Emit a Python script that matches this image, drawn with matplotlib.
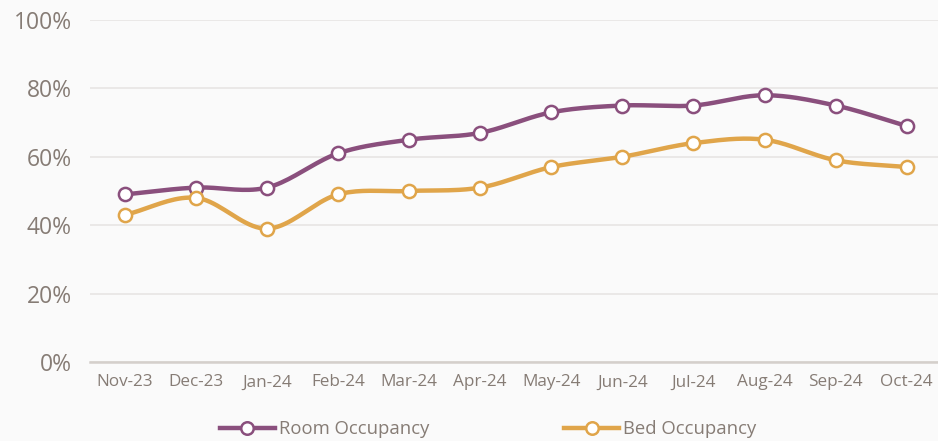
import numpy as np
import matplotlib.pyplot as plt
from matplotlib.ticker import FuncFormatter

months = ['Nov-23', 'Dec-23', 'Jan-24', 'Feb-24', 'Mar-24', 'Apr-24',
          'May-24', 'Jun-24', 'Jul-24', 'Aug-24', 'Sep-24', 'Oct-24']
room_occ = [49, 51, 51, 61, 65, 67, 73, 75, 75, 78, 75, 69]
bed_occ = [43, 48, 39, 49, 50, 51, 57, 60, 64, 65, 59, 57]

purple = '#8a4f7d'
gold = '#e0a54a'
text_col = '#867c75'


def smooth(x, y, n=20):
    # catmull-rom style curve through the points, for drawing only
    x = np.asarray(x, float)
    y = np.asarray(y, float)
    xs, ys = [], []
    for i in range(len(x) - 1):
        p0 = y[max(i - 1, 0)]
        p1, p2 = y[i], y[i + 1]
        p3 = y[min(i + 2, len(y) - 1)]
        t = np.linspace(0, 1, n, endpoint=False)
        m1 = (p2 - p0) / 2 if i > 0 else (p2 - p1)
        m2 = (p3 - p1) / 2 if i + 2 < len(y) else (p2 - p1)
        h00 = 2 * t**3 - 3 * t**2 + 1
        h10 = t**3 - 2 * t**2 + t
        h01 = -2 * t**3 + 3 * t**2
        h11 = t**3 - t**2
        xs.append(x[i] + t * (x[i + 1] - x[i]))
        ys.append(h00 * p1 + h10 * m1 + h01 * p2 + h11 * m2)
    xs.append([x[-1]])
    ys.append([y[-1]])
    return np.concatenate(xs), np.concatenate(ys)


plt.rcParams['font.family'] = ['Open Sans', 'DejaVu Sans']

fig = plt.figure(figsize=(9.38, 4.41), dpi=100, facecolor='#fafafa')
ax = fig.add_axes([90 / 938, 1 - 362 / 441, 848 / 938, 342 / 441])
ax.set_facecolor('#fafafa')

x = np.arange(len(months))
for vals, col, lab in [(room_occ, purple, 'Room Occupancy'), (bed_occ, gold, 'Bed Occupancy')]:
    sx, sy = smooth(x, vals)
    ax.plot(sx, sy, color=col, lw=3.2, solid_capstyle='round', zorder=3)
    ax.plot(x, vals, ls='none', marker='o', ms=9.5, mfc='white', mec=col, mew=1.8, zorder=4)
    ax.plot([], [], color=col, lw=3.2, marker='o', ms=9, mfc='white', mec=col, mew=1.8, label=lab)

ax.set_ylim(0, 100)
ax.set_xlim(-0.49, len(months) - 1 + 0.44)
ax.set_yticks(range(0, 101, 20))
ax.yaxis.set_major_formatter(FuncFormatter(lambda v, p: f'{v:.0f}%'))
ax.set_xticks(x)
ax.set_xticklabels(months)
ax.tick_params(axis='y', length=0, pad=13, labelsize=16.5, labelcolor=text_col)
ax.tick_params(axis='x', length=0, pad=9, labelsize=12.3, labelcolor=text_col)
ax.grid(axis='y', color='#e9e7e5', lw=1.3)
ax.set_axisbelow(True)
for s in ['top', 'right', 'left']:
    ax.spines[s].set_visible(False)
ax.spines['bottom'].set_color('#d4cfcb')
ax.spines['bottom'].set_linewidth(1.8)

fig.legend(loc='center', bbox_to_anchor=(488 / 938, 1 - 429 / 441), ncol=2, frameon=False,
           handlelength=3.0, columnspacing=7.3, handletextpad=0.2,
           prop={'size': 13.3}, labelcolor=text_col)

fig.savefig('out.png', dpi=100, facecolor=fig.get_facecolor())
